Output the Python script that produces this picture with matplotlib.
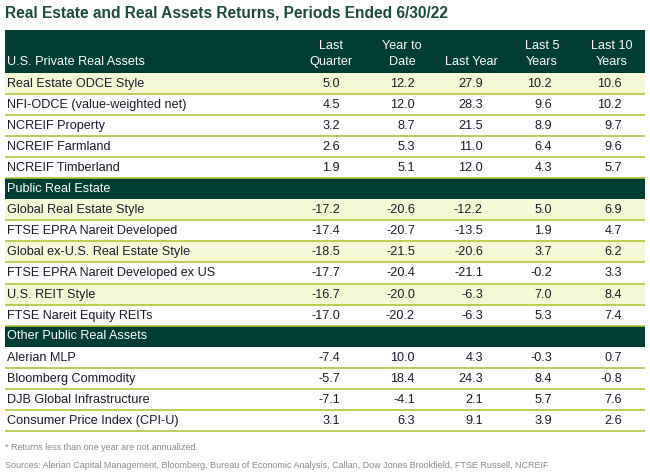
import matplotlib.pyplot as plt
from matplotlib.patches import Rectangle

plt.rcParams['font.family'] = ['Liberation Sans', 'DejaVu Sans']

# table content
columns = ['Last\nQuarter', 'Year to\nDate', 'Last Year', 'Last 5\nYears', 'Last 10\nYears']

sections = ['U.S. Private Real Assets', 'Public Real Estate', 'Other Public Real Assets']

names_private = ['Real Estate ODCE Style', 'NFI-ODCE (value-weighted net)', 'NCREIF Property',
                 'NCREIF Farmland', 'NCREIF Timberland']
vals_private = [[5.0, 12.2, 27.9, 10.2, 10.6],
                [4.5, 12.0, 28.3, 9.6, 10.2],
                [3.2, 8.7, 21.5, 8.9, 9.7],
                [2.6, 5.3, 11.0, 6.4, 9.6],
                [1.9, 5.1, 12.0, 4.3, 5.7]]

names_public = ['Global Real Estate Style', 'FTSE EPRA Nareit Developed', 'Global ex-U.S. Real Estate Style',
                'FTSE EPRA Nareit Developed ex US', 'U.S. REIT Style', 'FTSE Nareit Equity REITs']
vals_public = [[-17.2, -20.6, -12.2, 5.0, 6.9],
               [-17.4, -20.7, -13.5, 1.9, 4.7],
               [-18.5, -21.5, -20.6, 3.7, 6.2],
               [-17.7, -20.4, -21.1, -0.2, 3.3],
               [-16.7, -20.0, -6.3, 7.0, 8.4],
               [-17.0, -20.2, -6.3, 5.3, 7.4]]

names_other = ['Alerian MLP', 'Bloomberg Commodity', 'DJB Global Infrastructure', 'Consumer Price Index (CPI-U)']
vals_other = [[-7.4, 10.0, 4.3, -0.3, 0.7],
              [-5.7, 18.4, 24.3, 8.4, -0.8],
              [-7.1, -4.1, 2.1, 5.7, 7.6],
              [3.1, 6.3, 9.1, 3.9, 2.6]]

title = 'Real Estate and Real Assets Returns, Periods Ended 6/30/22'
note1 = '* Returns less than one year are not annualized.'
note2 = ('Sources: Alerian Capital Management, Bloomberg, Bureau of Economic Analysis, Callan, '
         'Dow Jones Brookfield, FTSE Russell, NCREIF')

dark = '#003d33'
yellow = '#f6f9d6'
line_c = '#b4c437'
txt_c = '#1b1b2b'

# layout in pixels
W, H = 650, 476
left, right = 5, 645
top = 30
row_h = 21.05
name_x = 7
col_right = [340, 415, 483, 552, 622]
col_center = [331, 402, 471, 542, 612]
fs = 9.1

fig = plt.figure(figsize=(W / 100, H / 100), dpi=100)
ax = fig.add_axes([0, 0, 1, 1])
ax.set_xlim(0, W)
ax.set_ylim(H, 0)
ax.axis('off')

ax.text(5, 13, title, fontsize=11.2, fontweight='bold', color='#1c4a3c', va='center', ha='left')

# header band
ax.add_patch(Rectangle((left, top), right - left, 43, color=dark, lw=0))
ax.text(name_x, top + 32, sections[0], color='white', fontsize=fs, va='center')
for j, c in enumerate(columns):
    parts = c.split('\n')
    if len(parts) == 2:
        ax.text(col_center[j], top + 16, parts[0], color='white', fontsize=fs, va='center', ha='center')
    ax.text(col_center[j], top + 32, parts[-1], color='white', fontsize=fs, va='center', ha='center')

y = top + 43


def draw_rows(names, vals, y):
    for name, row in zip(names, vals):
        if name.endswith('Style'):
            ax.add_patch(Rectangle((left, y), right - left, row_h, color=yellow, lw=0))
        ax.text(name_x, y + row_h / 2 + 0.5, name, color=txt_c, fontsize=fs, va='center')
        for j, v in enumerate(row):
            ax.text(col_right[j], y + row_h / 2 + 0.5, f'{v:.1f}', color=txt_c, fontsize=fs,
                    va='center', ha='right')
        y += row_h
        ax.plot([left, right], [y, y], color=line_c, lw=1.2, solid_capstyle='butt')
    return y


def draw_section(label, y):
    ax.add_patch(Rectangle((left, y), right - left, row_h, color=dark, lw=0))
    ax.text(name_x, y + row_h / 2, label, color='white', fontsize=fs, va='center')
    return y + row_h


y = draw_rows(names_private, vals_private, y)
y = draw_section(sections[1], y)
y = draw_rows(names_public, vals_public, y)
y = draw_section(sections[2], y)
y = draw_rows(names_other, vals_other, y)

ax.text(5, 447, note1, fontsize=6.5, color='#8a8a8a', va='center')
ax.text(5, 466, note2, fontsize=6.5, color='#8a8a8a', va='center')

fig.savefig('out.png', dpi=100)
